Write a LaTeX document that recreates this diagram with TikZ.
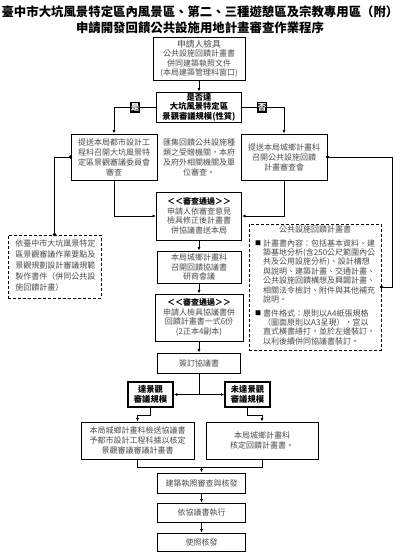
\documentclass[tikz,border=0pt]{standalone}
\usepackage{fontspec}
\setmainfont{Noto Sans CJK TC}
\usetikzlibrary{arrows.meta}
\definecolor{txt}{gray}{0.3}
\newcommand{\fs}{\fontsize{8}{9.6}\selectfont}
\newcommand{\fsb}{\fontsize{8.3}{9.6}\selectfont\bfseries}
\newcommand{\ttl}{\fontsize{12.4}{14}\selectfont\bfseries}
\begin{document}
\begin{tikzpicture}[x=1pt,y=-1pt,
  box/.style={draw, line width=1pt, inner sep=0pt, align=center, font=\fs, text=txt},
  bbox/.style={box, font=\fsb, text=black},
  dbox/.style={draw, dash pattern=on 3pt off 2pt, line width=1pt, inner sep=0pt},
  plain/.style={inner sep=0pt, align=center, font=\fs, text=txt},
  conn/.style={line width=0.9pt},
  arr/.style={conn, -{Latex[length=3.5pt,width=3pt]}},
  dot/.style={circle, fill=black, inner sep=0pt, minimum size=3.6pt},
  tag/.style={fill=black, text=white, font=\fontsize{8.5}{9}\selectfont\bfseries, inner sep=0pt, minimum width=10pt, minimum height=11pt}
]
\fill[white] (0,0) rectangle (400,552);
\useasboundingbox (0,0) rectangle (400,552);

\node[font=\ttl] (t1) at (200,12) {臺中市大坑風景特定區內風景區、第二、三種遊憩區及宗教專用區（附）};
\node[font=\ttl] (t2) at (200,28) {申請開發回饋公共設施用地計畫審查作業程序};

\node[box, minimum width=92pt, minimum height=43pt] (b1) at (199,58.5) {{\fontsize{8.8}{9.6}\selectfont 申請人檢具}\\公共設施回饋計畫書\\併同建築執照文件\\(本局建築管理科窗口)};
\node[bbox, minimum width=85pt, minimum height=30pt] (b2) at (199,107) {是否達\\大坑風景特定區\\景觀審議規模(性質)};

\node[box, minimum width=86pt, minimum height=46pt, font=\fontsize{8}{10}\selectfont] (b3) at (114,157) {提送本局都市設計工\\程科召開大坑風景特\\定區景觀審議委員會\\審查};
\node[box, minimum width=86pt, minimum height=46pt, font=\fontsize{8}{10}\selectfont] (b4) at (284,157) {提送本局城鄉計畫科\\召開公共設施回饋\\計畫審查會};
\node[plain, font=\fontsize{8}{10}\selectfont] (mid) at (199,157) {匯集回饋公共設施種\\類之受贈機關，本府\\及府外相關機關及單\\位審查。};

\node[box, minimum width=85pt, minimum height=48pt] (b5) at (199,216) {{\bfseries\color{black}＜＜審查通過＞＞}\\申請人依審查意見\\檢具修正後計畫書\\併協議書送本局};
\node[box, minimum width=84pt, minimum height=32pt] (b6) at (199,267) {本局城鄉計畫科\\召開回饋協議書\\研商會議};
\node[box, minimum width=88pt, minimum height=47pt] (b7) at (199,317.5) {{\bfseries\color{black}＜＜審查通過＞＞}\\申請人檢具協議書併\\回饋計畫書一式6份\\(2正本4副本)};
\node[box, minimum width=83pt, minimum height=20pt] (b8) at (199,363) {簽訂協議書};

\node[bbox, line width=1.5pt, minimum width=45pt, minimum height=25pt] (b9) at (150.5,394.5) {達景觀\\審議規模};
\node[bbox, line width=1.5pt, minimum width=45pt, minimum height=25pt] (b10) at (247.5,394.5) {未達景觀\\審議規模};
\node[box, minimum width=113pt, minimum height=37pt] (b11) at (137.5,440.5) {本局城鄉計畫科檢送協議書\\予都市設計工程科據以核定\\景觀審議審議計畫書};
\node[box, minimum width=112pt, minimum height=37pt] (b12) at (262,440.5) {本局城鄉計畫科\\核定回饋計畫書。};
\node[box, minimum width=88pt, minimum height=20pt] (b13) at (201.5,483) {建築執照審查與核發};
\node[box, minimum width=88pt, minimum height=19pt] (b14) at (201.5,512.5) {依協議書執行};
\node[box, minimum width=88pt, minimum height=18pt] (b15) at (201.5,542) {使照核發};

\node[dbox, minimum width=93pt, minimum height=63pt] (dl) at (54.5,266.5) {};
\node[plain, align=left, font=\fontsize{8}{11}\selectfont] (dlt) at (55.5,265.5) {依臺中市大坑風景特定\\區景觀審議作業要點及\\景觀規劃設計審議規範\\製作書件（併同公共設\\施回饋計畫）};

\node[dbox, minimum width=132pt, minimum height=126pt] (dr) at (315,287) {};
\node[plain] (drt) at (315,229.5) {公共設施回饋計畫書};
\node[inner sep=0pt, font=\fontsize{6}{7}\selectfont] (drs1) at (258,243) {■};
\node[plain, align=left, anchor=north west, font=\fontsize{8}{9.4}\selectfont] (drb1) at (263,239.2) {計畫書內容：包括基本資料、建\\築基地分析(含250公尺範圍內公\\共及公用設施分析)、設計構想\\與說明、建築計畫、交通計畫、\\公共設施回饋構想及興闢計畫、\\相關法令檢討、附件與其他補充\\說明。};
\node[inner sep=0pt, font=\fontsize{6}{7}\selectfont] (drs2) at (258,313) {■};
\node[plain, align=left, anchor=north west, font=\fontsize{8}{9.4}\selectfont] (drb2) at (263,309.2) {書件格式：原則以A4紙張規格\\（圖面原則以A3呈現），宜以\\直式橫書繕打，並於左邊裝訂，\\以利後續併同協議書裝訂。};

% connectors
\draw[arr] (b1.south) -- (b2.north);
\draw[arr] (b2.west) -| (b3.north);
\draw[arr] (b2.east) -| (b4.north);
\node[tag] (yes) at (135,107) {是};
\node[tag] (no) at (262,107) {否};

\draw[conn] (b3.west) -| (dl.north);
\node[dot] (d1) at (b3.west) {};
\node[dot] (d2) at (dl.north) {};
\draw[conn] (b4.east) -- ++(65,0) |- (dr.east);
\node[dot] (d3) at (b4.east) {};
\node[dot] (d4) at (dr.east) {};

\draw[arr] (b3.south) |- (b5.west);
\draw[arr] (b4.south) |- (b5.east);
\draw[arr] (b5.south) -- (b6.north);
\draw[arr] (b6.south) -- (b7.north);
\draw[arr] (b7.south) -- (b8.north);

\coordinate (j1) at (b8.south |- b9.east);
\draw[conn] (b8.south) -- (j1);
\draw[arr] (j1) -- (b9.east);
\draw[arr] (j1) -- (b10.west);
\draw[arr] (b9.south) -- ++(0,8) -| (b11.north);
\draw[arr] (b10.south) -- ++(0,8) -| (b12.north);
\draw[conn] (b11.south) -- ++(0,8) -| (b12.south);
\path (b11.south) ++(0,8) coordinate (j0);
\coordinate (j2) at (b13.north |- j0);
\draw[arr] (j2) -- (b13.north);
\draw[arr] (b13.south) -- (b14.north);
\draw[arr] (b14.south) -- (b15.north);
\end{tikzpicture}
\end{document}
